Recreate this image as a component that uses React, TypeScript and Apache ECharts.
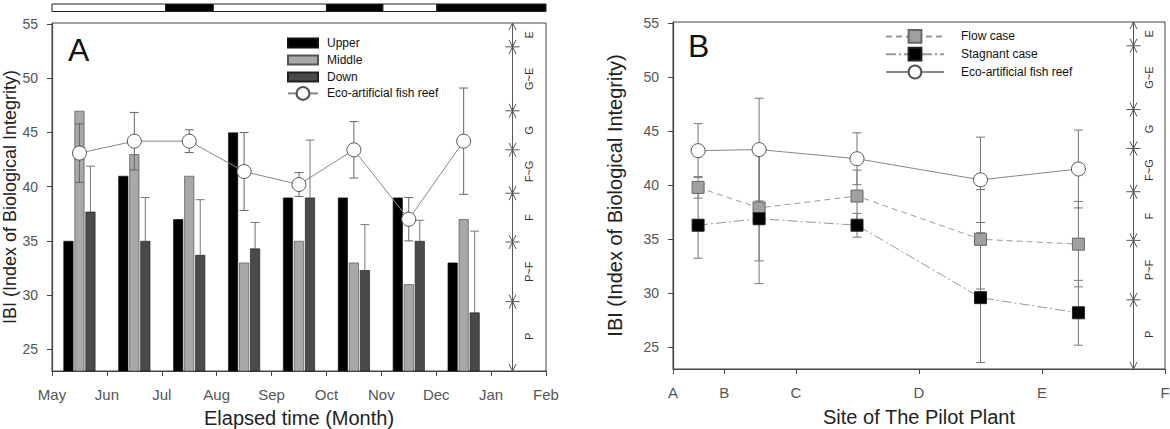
import React, { useEffect, useRef } from 'react';
import * as echarts from 'echarts';

// ---------- Panel A data ----------
const MONTH_TICKS = ['May', 'Jun', 'Jul', 'Aug', 'Sep', 'Oct', 'Nov', 'Dec', 'Jan', 'Feb'];
const MONTH_CATS = ['May', 'Jun', 'Jul', 'Aug', 'Sep', 'Oct', 'Nov', 'Dec', 'Jan'];
const UPPER = [35, 41, 37, 45, 39, 39, 39, 33];
const MIDDLE = [47, 43, 41, 33, 35, 33, 31, 37];
const DOWN = [37.7, 35, 33.7, 34.3, 39, 32.3, 35, 28.4];
const DOWN_ERR = [4.2, 4.0, 5.1, 2.4, 5.3, 4.2, 1.9, 7.5];
const REEF_A = [43.1, 44.2, 44.2, 41.4, 40.2, 43.4, 37.0, 44.2];
const REEF_A_ERR = [2.7, 2.65, 1.05, 3.6, 1.1, 2.6, 2.0, 4.9];
const STRIP_START = [0, 2.07, 2.94, 5.0, 6.03, 7.01];
const STRIP_END = [2.07, 2.94, 5.0, 6.03, 7.01, 9];
const STRIP_DARK = [0, 1, 0, 1, 0, 1];

// ---------- Panel B data ----------
const SITE_TICK_POS = [0, 10.4, 25, 50, 75, 100];
const SITE_TICK_LABELS = ['A', 'B', 'C', 'D', 'E', 'F'];
const SITE_X = [5.1, 17.5, 37.4, 62.5, 82.4];
const FLOW = [39.8, 37.9, 39.0, 35.0, 34.55];
const FLOW_ERR = [1.0, 4.9, 2.4, 4.6, 3.95];
const STAG = [36.3, 36.9, 36.3, 29.6, 28.2];
const STAG_ERR = [3.05, 6.0, 1.1, 6.0, 3.0];
const REEF_B = [43.2, 43.3, 42.45, 40.5, 41.5];
const REEF_B_ERR = [2.5, 4.75, 2.4, 3.95, 3.6];

// ---------- shared ----------
const Y_TICKS = [25, 30, 35, 40, 45, 50, 55];
const IBI_BOUNDS = [23, 29.4, 34.9, 39.4, 43.4, 47.0, 52.9, 55.1];
const IBI_CLASSES = ['P', 'P~F', 'F', 'F~G', 'G', 'G~E', 'E'];

// ---------- styling constants ----------
const Y_MIN = 23;
const Y_MAX = 55.1;
const FONT = 'Liberation Sans, Arial, Helvetica, sans-serif';
const BAR_W = 10;
const BAR_GAP_PX = 1;
const SCALE_X_A = 8.39;
const SCALE_X_B = 93.6;
const STRIP_TOP_OFFSET = 19;
const STRIP_H = 7.5;

function errorBars(color: string, capHalf: number, xOffset: number, upperOnly: boolean) {
  return (params: any, api: any) => {
    const x = api.value(0);
    const lo = api.value(1);
    const hi = api.value(2);
    const pHi = api.coord([x, hi]);
    const pLo = api.coord([x, lo]);
    const cx = pHi[0] + xOffset;
    const st = { stroke: color, lineWidth: 1 };
    const children: any[] = [
      { type: 'line', shape: { x1: cx, y1: pHi[1], x2: cx, y2: pLo[1] }, style: st },
      { type: 'line', shape: { x1: cx - capHalf, y1: pHi[1], x2: cx + capHalf, y2: pHi[1] }, style: st },
    ];
    if (!upperOnly) {
      children.push({ type: 'line', shape: { x1: cx - capHalf, y1: pLo[1], x2: cx + capHalf, y2: pLo[1] }, style: st });
    }
    return { type: 'group', children };
  };
}

function ibiScale(labelDx: number) {
  return (params: any, api: any) => {
    const i = params.dataIndex;
    const x = api.value(0);
    const lo = api.value(1);
    const hi = api.value(2);
    const pT = api.coord([x, hi]);
    const pB = api.coord([x, lo]);
    const cx = pT[0];
    const yT = pT[1];
    const yB = pB[1];
    const aw = 3.5;
    const ah = 7;
    const st = { stroke: '#555', lineWidth: 1, fill: 'none' };
    const ch: any[] = [
      { type: 'line', shape: { x1: cx, y1: yT, x2: cx, y2: yB }, style: st },
      { type: 'polyline', shape: { points: [[cx - aw, yT + ah], [cx, yT], [cx + aw, yT + ah]] }, style: st },
      { type: 'polyline', shape: { points: [[cx - aw, yB - ah], [cx, yB], [cx + aw, yB - ah]] }, style: st },
      {
        type: 'text',
        x: cx + labelDx,
        y: (yT + yB) / 2,
        rotation: Math.PI / 2,
        style: { text: IBI_CLASSES[i], fill: '#333', fontSize: 11, fontFamily: FONT, align: 'center', verticalAlign: 'middle' },
      },
    ];
    if (i < IBI_CLASSES.length - 1) {
      ch.push({ type: 'line', shape: { x1: cx - 7, y1: yT, x2: cx + 7, y2: yT }, style: st });
    }
    return { type: 'group', children: ch };
  };
}

function stripRender(params: any, api: any) {
  const s = api.value(0);
  const e = api.value(1);
  const dark = api.value(2);
  const p0 = api.coord([s, Y_MIN]);
  const p1 = api.coord([e, Y_MIN]);
  const cs = params.coordSys;
  return {
    type: 'rect',
    shape: { x: p0[0], y: cs.y - STRIP_TOP_OFFSET, width: p1[0] - p0[0], height: STRIP_H },
    style: { fill: dark ? '#000' : '#fff', stroke: '#222', lineWidth: 1 },
  };
}

const axisLineStyle = { lineStyle: { color: '#444', width: 1.2 } };
const tickLabel = { fontSize: 15, color: '#555', fontFamily: FONT };
const nameStyle = { fontSize: 20, color: '#222', fontFamily: FONT };

function yAxisFor(gridIndex: number, nameGap: number, nameFont: number) {
  return {
    type: 'value',
    gridIndex,
    min: Y_MIN,
    max: Y_MAX,
    name: 'IBI (Index of Biological Integrity)',
    nameLocation: 'middle',
    nameGap,
    nameRotate: 90,
    nameTextStyle: { ...nameStyle, fontSize: nameFont },
    axisLine: { show: true, ...axisLineStyle },
    axisTick: { show: true, length: 5, customValues: Y_TICKS, lineStyle: { color: '#444' } },
    axisLabel: { ...tickLabel, fontSize: 14, margin: 14, customValues: Y_TICKS },
    splitLine: { show: false },
  };
}

const legendText = { fontSize: 12, color: '#111', fontFamily: FONT, lineHeight: 12 };

const option: any = {
  animation: false,
  backgroundColor: '#fff',
  textStyle: { fontFamily: FONT },
  grid: [
    { left: 52, top: 23, width: 494, height: 348, containLabel: false, outerBoundsMode: 'none', show: true, borderColor: '#444', borderWidth: 1, backgroundColor: 'transparent' },
    { left: 673, top: 22, width: 492, height: 347, containLabel: false, outerBoundsMode: 'none', show: true, borderColor: '#444', borderWidth: 1, backgroundColor: 'transparent' },
  ],
  xAxis: [
    {
      type: 'value',
      gridIndex: 0,
      min: 0,
      max: 9,
      interval: 1,
      position: 'bottom',
      name: 'Elapsed time (Month)',
      nameLocation: 'middle',
      nameGap: 37,
      nameTextStyle: nameStyle,
      axisLine: { show: true, ...axisLineStyle },
      axisTick: { show: true, length: 5, lineStyle: { color: '#444' } },
      axisLabel: { ...tickLabel, margin: 16, formatter: (v: number) => MONTH_TICKS[Math.round(v)] },
      splitLine: { show: false },
    },
    {
      type: 'category',
      gridIndex: 0,
      position: 'top',
      data: MONTH_CATS,
      boundaryGap: true,
      show: false,
    },
    {
      type: 'value',
      gridIndex: 1,
      min: 0,
      max: 100,
      name: 'Site of The Pilot Plant',
      nameLocation: 'middle',
      nameGap: 38,
      nameTextStyle: nameStyle,
      axisLine: { show: true, ...axisLineStyle },
      axisTick: { show: true, length: 5, customValues: SITE_TICK_POS, lineStyle: { color: '#444' } },
      axisLabel: {
        ...tickLabel,
        margin: 16,
        customValues: SITE_TICK_POS,
        formatter: (v: number) => {
          const idx = SITE_TICK_POS.findIndex((p) => Math.abs(p - v) < 1e-6);
          return idx >= 0 ? SITE_TICK_LABELS[idx] : '';
        },
      },
      splitLine: { show: false },
    },
  ],
  yAxis: [yAxisFor(0, 30, 18), yAxisFor(1, 48, 20)],
  legend: [
    {
      data: ['Upper', 'Middle', 'Down'],
      icon: 'rect',
      orient: 'vertical',
      left: 287,
      top: 37,
      padding: 0,
      itemWidth: 30,
      itemHeight: 9,
      itemGap: 5,
      selectedMode: false,
      textStyle: { ...legendText, padding: [0, 0, 0, 4] },
    },
    {
      data: ['Eco-artificial fish reef'],
      orient: 'vertical',
      left: 287,
      top: 86,
      padding: 0,
      itemWidth: 30,
      itemHeight: 16,
      selectedMode: false,
      textStyle: { ...legendText, padding: [0, 0, 0, 4] },
    },
    {
      data: ['Flow case', 'Stagnant case', 'Eco-artificial fish reef'],
      orient: 'vertical',
      left: 885,
      top: 29,
      padding: 0,
      itemWidth: 58,
      itemHeight: 16,
      itemGap: 3,
      selectedMode: false,
      textStyle: { ...legendText, padding: [0, 0, 0, 12] },
    },
  ],
  graphic: [
    { type: 'text', left: 68, top: 34, style: { text: 'A', fontSize: 32, fill: '#111', fontFamily: FONT } },
    { type: 'text', left: 688, top: 30, style: { text: 'B', fontSize: 32, fill: '#111', fontFamily: FONT } },
  ],
  series: [
    {
      name: 'Upper',
      type: 'bar',
      xAxisIndex: 1,
      yAxisIndex: 0,
      data: UPPER,
      barWidth: BAR_W,
      barGap: `${(BAR_GAP_PX / BAR_W) * 100}%`,
      itemStyle: { color: '#000', borderColor: '#111', borderWidth: 0.7 },
      z: 2,
    },
    {
      name: 'Middle',
      type: 'bar',
      xAxisIndex: 1,
      yAxisIndex: 0,
      data: MIDDLE,
      barWidth: BAR_W,
      itemStyle: { color: '#a8a8a8', borderColor: '#555', borderWidth: 0.7 },
      z: 2,
    },
    {
      name: 'Down',
      type: 'bar',
      xAxisIndex: 1,
      yAxisIndex: 0,
      data: DOWN,
      barWidth: BAR_W,
      itemStyle: { color: '#4a4a4a', borderColor: '#222', borderWidth: 0.7 },
      z: 2,
    },
    {
      name: 'down-err',
      type: 'custom',
      xAxisIndex: 1,
      yAxisIndex: 0,
      silent: true,
      z: 1,
      encode: { x: 0, y: [1, 2] },
      data: DOWN.map((v, i) => [i, v, v + DOWN_ERR[i]]),
      renderItem: errorBars('#777', 4.5, BAR_W + BAR_GAP_PX, true),
    },
    {
      name: 'reefA-err',
      type: 'custom',
      xAxisIndex: 1,
      yAxisIndex: 0,
      silent: true,
      z: 3,
      encode: { x: 0, y: [1, 2] },
      data: REEF_A.map((v, i) => [i, v - REEF_A_ERR[i], v + REEF_A_ERR[i]]),
      renderItem: errorBars('#666', 4.5, 0, false),
    },
    {
      name: 'Eco-artificial fish reef',
      type: 'line',
      xAxisIndex: 1,
      yAxisIndex: 0,
      data: REEF_A,
      symbol: 'circle',
      symbolSize: 14,
      itemStyle: { color: '#fff', borderColor: '#555', borderWidth: 1 },
      lineStyle: { color: '#888', width: 1 },
      z: 4,
    },
    {
      name: 'strip',
      type: 'custom',
      xAxisIndex: 0,
      yAxisIndex: 0,
      silent: true,
      encode: { x: [0, 1] },
      data: STRIP_START.map((s, i) => [s, STRIP_END[i], STRIP_DARK[i]]),
      renderItem: stripRender,
    },
    {
      name: 'scaleA',
      type: 'custom',
      xAxisIndex: 0,
      yAxisIndex: 0,
      silent: true,
      encode: { x: 0, y: [1, 2] },
      data: IBI_CLASSES.map((c, i) => [SCALE_X_A, IBI_BOUNDS[i], IBI_BOUNDS[i + 1]]),
      renderItem: ibiScale(16),
    },
    // ---------- Panel B ----------
    {
      name: 'flow-err',
      type: 'custom',
      xAxisIndex: 2,
      yAxisIndex: 1,
      silent: true,
      z: 1,
      encode: { x: 0, y: [1, 2] },
      data: FLOW.map((v, i) => [SITE_X[i], v - FLOW_ERR[i], v + FLOW_ERR[i]]),
      renderItem: errorBars('#777', 4.5, 0, false),
    },
    {
      name: 'stag-err',
      type: 'custom',
      xAxisIndex: 2,
      yAxisIndex: 1,
      silent: true,
      z: 1,
      encode: { x: 0, y: [1, 2] },
      data: STAG.map((v, i) => [SITE_X[i], v - STAG_ERR[i], v + STAG_ERR[i]]),
      renderItem: errorBars('#777', 4.5, 0, false),
    },
    {
      name: 'reefB-err',
      type: 'custom',
      xAxisIndex: 2,
      yAxisIndex: 1,
      silent: true,
      z: 1,
      encode: { x: 0, y: [1, 2] },
      data: REEF_B.map((v, i) => [SITE_X[i], v - REEF_B_ERR[i], v + REEF_B_ERR[i]]),
      renderItem: errorBars('#777', 4.5, 0, false),
    },
    {
      name: 'Flow case',
      type: 'line',
      xAxisIndex: 2,
      yAxisIndex: 1,
      data: SITE_X.map((x, i) => [x, FLOW[i]]),
      symbol: 'rect',
      symbolSize: 12,
      itemStyle: { color: '#a0a0a0', borderColor: '#666', borderWidth: 1 },
      lineStyle: { color: '#999', width: 1, type: [6, 4] },
      z: 3,
    },
    {
      name: 'Stagnant case',
      type: 'line',
      xAxisIndex: 2,
      yAxisIndex: 1,
      data: SITE_X.map((x, i) => [x, STAG[i]]),
      symbol: 'rect',
      symbolSize: 12,
      itemStyle: { color: '#000', borderColor: '#222', borderWidth: 1 },
      lineStyle: { color: '#999', width: 1, type: [10, 3, 2, 3] },
      z: 3,
    },
    {
      name: 'Eco-artificial fish reef',
      type: 'line',
      xAxisIndex: 2,
      yAxisIndex: 1,
      data: SITE_X.map((x, i) => [x, REEF_B[i]]),
      symbol: 'circle',
      symbolSize: 14,
      itemStyle: { color: '#fff', borderColor: '#555', borderWidth: 1 },
      lineStyle: { color: '#888', width: 1 },
      z: 3,
    },
    {
      name: 'scaleB',
      type: 'custom',
      xAxisIndex: 2,
      yAxisIndex: 1,
      silent: true,
      encode: { x: 0, y: [1, 2] },
      data: IBI_CLASSES.map((c, i) => [SCALE_X_B, IBI_BOUNDS[i], IBI_BOUNDS[i + 1]]),
      renderItem: ibiScale(15),
    },
  ],
};

export default function App() {
  const ref = useRef<HTMLDivElement>(null);
  useEffect(() => {
    document.body.style.margin = '0';
    const chart = echarts.init(ref.current as HTMLDivElement, null, { renderer: 'svg' });
    chart.setOption(option);
    return () => chart.dispose();
  }, []);
  return <div ref={ref} style={{ width: 1170, height: 429 }} />;
}
